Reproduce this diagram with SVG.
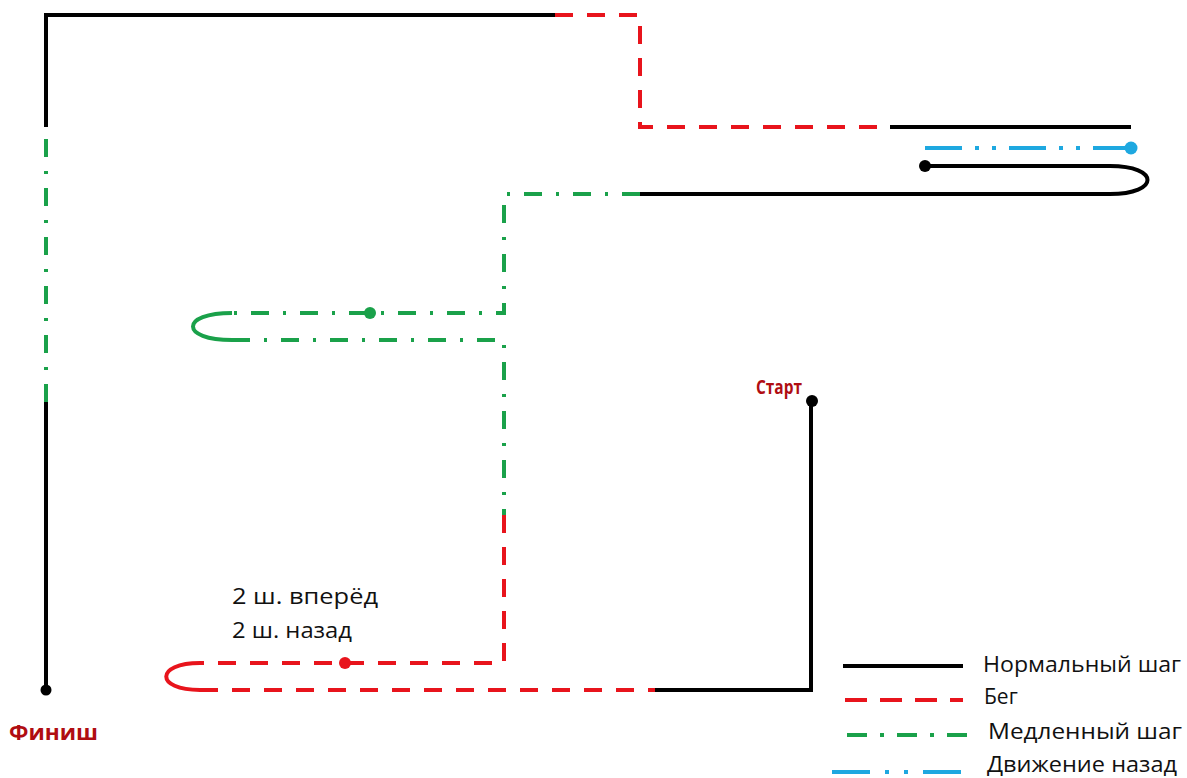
<svg xmlns="http://www.w3.org/2000/svg" width="1187" height="778" viewBox="0 0 1187 778">
<style>
.l{fill:none;stroke-width:4;stroke-linecap:butt;stroke-linejoin:miter}
.n{stroke:#000}
.r{stroke:#e8141c;stroke-dasharray:18 14}
.g{stroke:#1aa14a;stroke-dasharray:18 14 3 14}
.b{stroke:#1ea8e0;stroke-dasharray:37 13 4 13 4 13}
.rs{stroke:#e8141c}
.gs{stroke:#1aa14a}
.t{font-family:"Open Sans","Liberation Sans",sans-serif;font-size:21px;fill:#111}
.lbl{font-family:"Open Sans","Liberation Sans",sans-serif;font-weight:bold;fill:#b00d12}
</style>
<rect width="1187" height="778" fill="#fff"/>
<g id="connectors">
<path class="l n" d="M46,690 V402"/>
<path class="l g" d="M46,402 V127"/>
<path class="l n" d="M46,127 V15 H555"/>
<path class="l r" d="M555,15 H640 V127 H890"/>
<path class="l n" d="M890,127 H1131"/>
<path class="l b" d="M925,148 H1131"/>
<path class="l n" d="M925,166 H1110 C1160,166 1160,194 1110,194 H640"/>
<path class="l g" d="M640,194 H504 V313 H232"/>
<path class="l gs" d="M232,313 C180,313 180,340 232,340"/>
<path class="l g" d="M232,340 H504 V515"/>
<path class="l r" d="M504,515 V663 H200"/>
<path class="l rs" d="M200,663 C155,663 155,690 200,690"/>
<path class="l r" d="M200,690 H655"/>
<path class="l n" d="M655,690 H811 V402"/>
</g>
<g id="dots">
<circle cx="46" cy="690" r="5.5" fill="#000"/>
<circle cx="1131" cy="148" r="6.5" fill="#1ea8e0"/>
<circle cx="925" cy="166" r="6" fill="#000"/>
<circle cx="370" cy="313" r="6" fill="#1aa14a"/>
<circle cx="345" cy="663" r="6" fill="#e8141c"/>
<circle cx="812" cy="401" r="6" fill="#000"/>
</g>
<g id="start"><text class="lbl" x="756" y="394" font-size="19" textLength="46" lengthAdjust="spacingAndGlyphs">Старт</text></g>
<g id="finish"><text class="lbl" x="9" y="740" font-size="21" textLength="89" lengthAdjust="spacingAndGlyphs">Финиш</text></g>
<g id="note">
<text class="t" x="232" y="604" textLength="146" lengthAdjust="spacingAndGlyphs">2 ш. вперёд</text>
<text class="t" x="232" y="638" textLength="120" lengthAdjust="spacingAndGlyphs">2 ш. назад</text>
</g>
<g id="legend">
<path class="l n" d="M843,666 H963"/>
<text class="t" x="983" y="672" font-size="22" textLength="198" lengthAdjust="spacingAndGlyphs">Нормальный шаг</text>
<path class="l r" d="M845,700 H963" style="stroke-dasharray:22 13"/>
<text class="t" x="984" y="704" font-size="22">Бег</text>
<path class="l g" d="M847,735 H967" style="stroke-dasharray:20 13 4 13"/>
<text class="t" x="988" y="739" font-size="22" textLength="194" lengthAdjust="spacingAndGlyphs">Медленный шаг</text>
<path class="l b" d="M832,772 H963" style="stroke-dasharray:38 15 4 15 4 15"/>
<text class="t" x="987" y="772" font-size="21" textLength="190" lengthAdjust="spacingAndGlyphs">Движение назад</text>
</g>
</svg>
